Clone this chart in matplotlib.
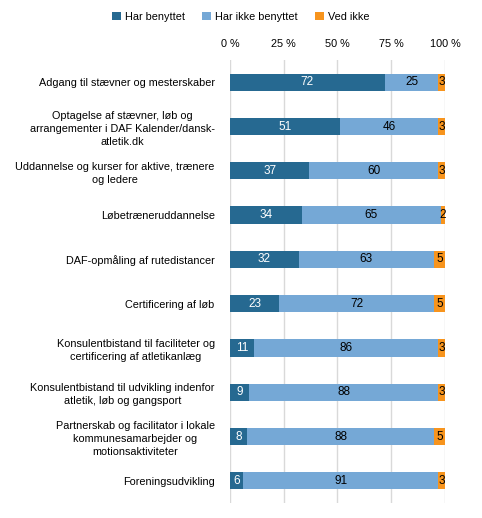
import numpy as np
import matplotlib.pyplot as plt

plt.rcParams['font.family'] = ['Liberation Sans', 'DejaVu Sans']

categories = [
    'Adgang til stævner og mesterskaber',
    'Optagelse af stævner, løb og\narrangementer i DAF Kalender/dansk-\natletik.dk',
    'Uddannelse og kurser for aktive, trænere\nog ledere',
    'Løbetræneruddannelse',
    'DAF-opmåling af rutedistancer',
    'Certificering af løb',
    'Konsulentbistand til faciliteter og\ncertificering af atletikanlæg',
    'Konsulentbistand til udvikling indenfor\natletik, løb og gangsport',
    'Partnerskab og facilitator i lokale\nkommunesamarbejder og\nmotionsaktiviteter',
    'Foreningsudvikling',
]
har_benyttet = [72, 51, 37, 34, 32, 23, 11, 9, 8, 6]
har_ikke_benyttet = [25, 46, 60, 65, 63, 72, 86, 88, 88, 91]
ved_ikke = [3, 3, 3, 2, 5, 5, 3, 3, 5, 3]
series_names = ['Har benyttet', 'Har ikke benyttet', 'Ved ikke']
colors = ['#266991', '#75A8D6', '#F7941D']
text_colors = ['white', 'black', 'black']

data = np.array([har_benyttet, har_ikke_benyttet, ved_ikke], dtype=float)
shares = data / data.sum(axis=0) * 100

fig = plt.figure(figsize=(4.82, 5.18), dpi=100)
ax = fig.add_axes([0.477, 0.029, 0.446, 0.855])

y = np.arange(len(categories))
left = np.zeros(len(categories))
handles = []
for i in range(3):
    bars = ax.barh(y, shares[i], left=left, height=0.39, color=colors[i],
                   label=series_names[i], zorder=3)
    handles.append(bars)
    for yy, l, w, v in zip(y, left, shares[i], data[i]):
        ax.text(l + w / 2, yy, '{:d}'.format(int(v)), ha='center', va='center',
                color=text_colors[i], fontsize=8.5, zorder=4)
    left += shares[i]

ax.set_ylim(len(categories) - 0.5, -0.5)
ax.set_xlim(0, 100)
ax.set_yticks(y)
ax.set_yticklabels(categories, fontsize=7.8, multialignment='center',
                   linespacing=1.4)
ax.set_xticks([0, 25, 50, 75, 100])
ax.set_xticklabels(['0 %', '25 %', '50 %', '75 %', '100 %'], fontsize=7.8)
ax.xaxis.tick_top()
ax.tick_params(axis='both', length=0)
ax.tick_params(axis='y', pad=11)
ax.tick_params(axis='x', pad=8)
ax.grid(axis='x', color='#d9d9d9', linewidth=1, zorder=0)
for s in ax.spines.values():
    s.set_visible(False)

fig.legend(handles=handles, labels=series_names, loc='center',
           bbox_to_anchor=(0.5, 0.967), ncol=3, frameon=False, fontsize=7.8,
           handlelength=0.8, handleheight=0.8, handletextpad=0.4,
           columnspacing=1.6)

fig.savefig('out.png', dpi=100)
